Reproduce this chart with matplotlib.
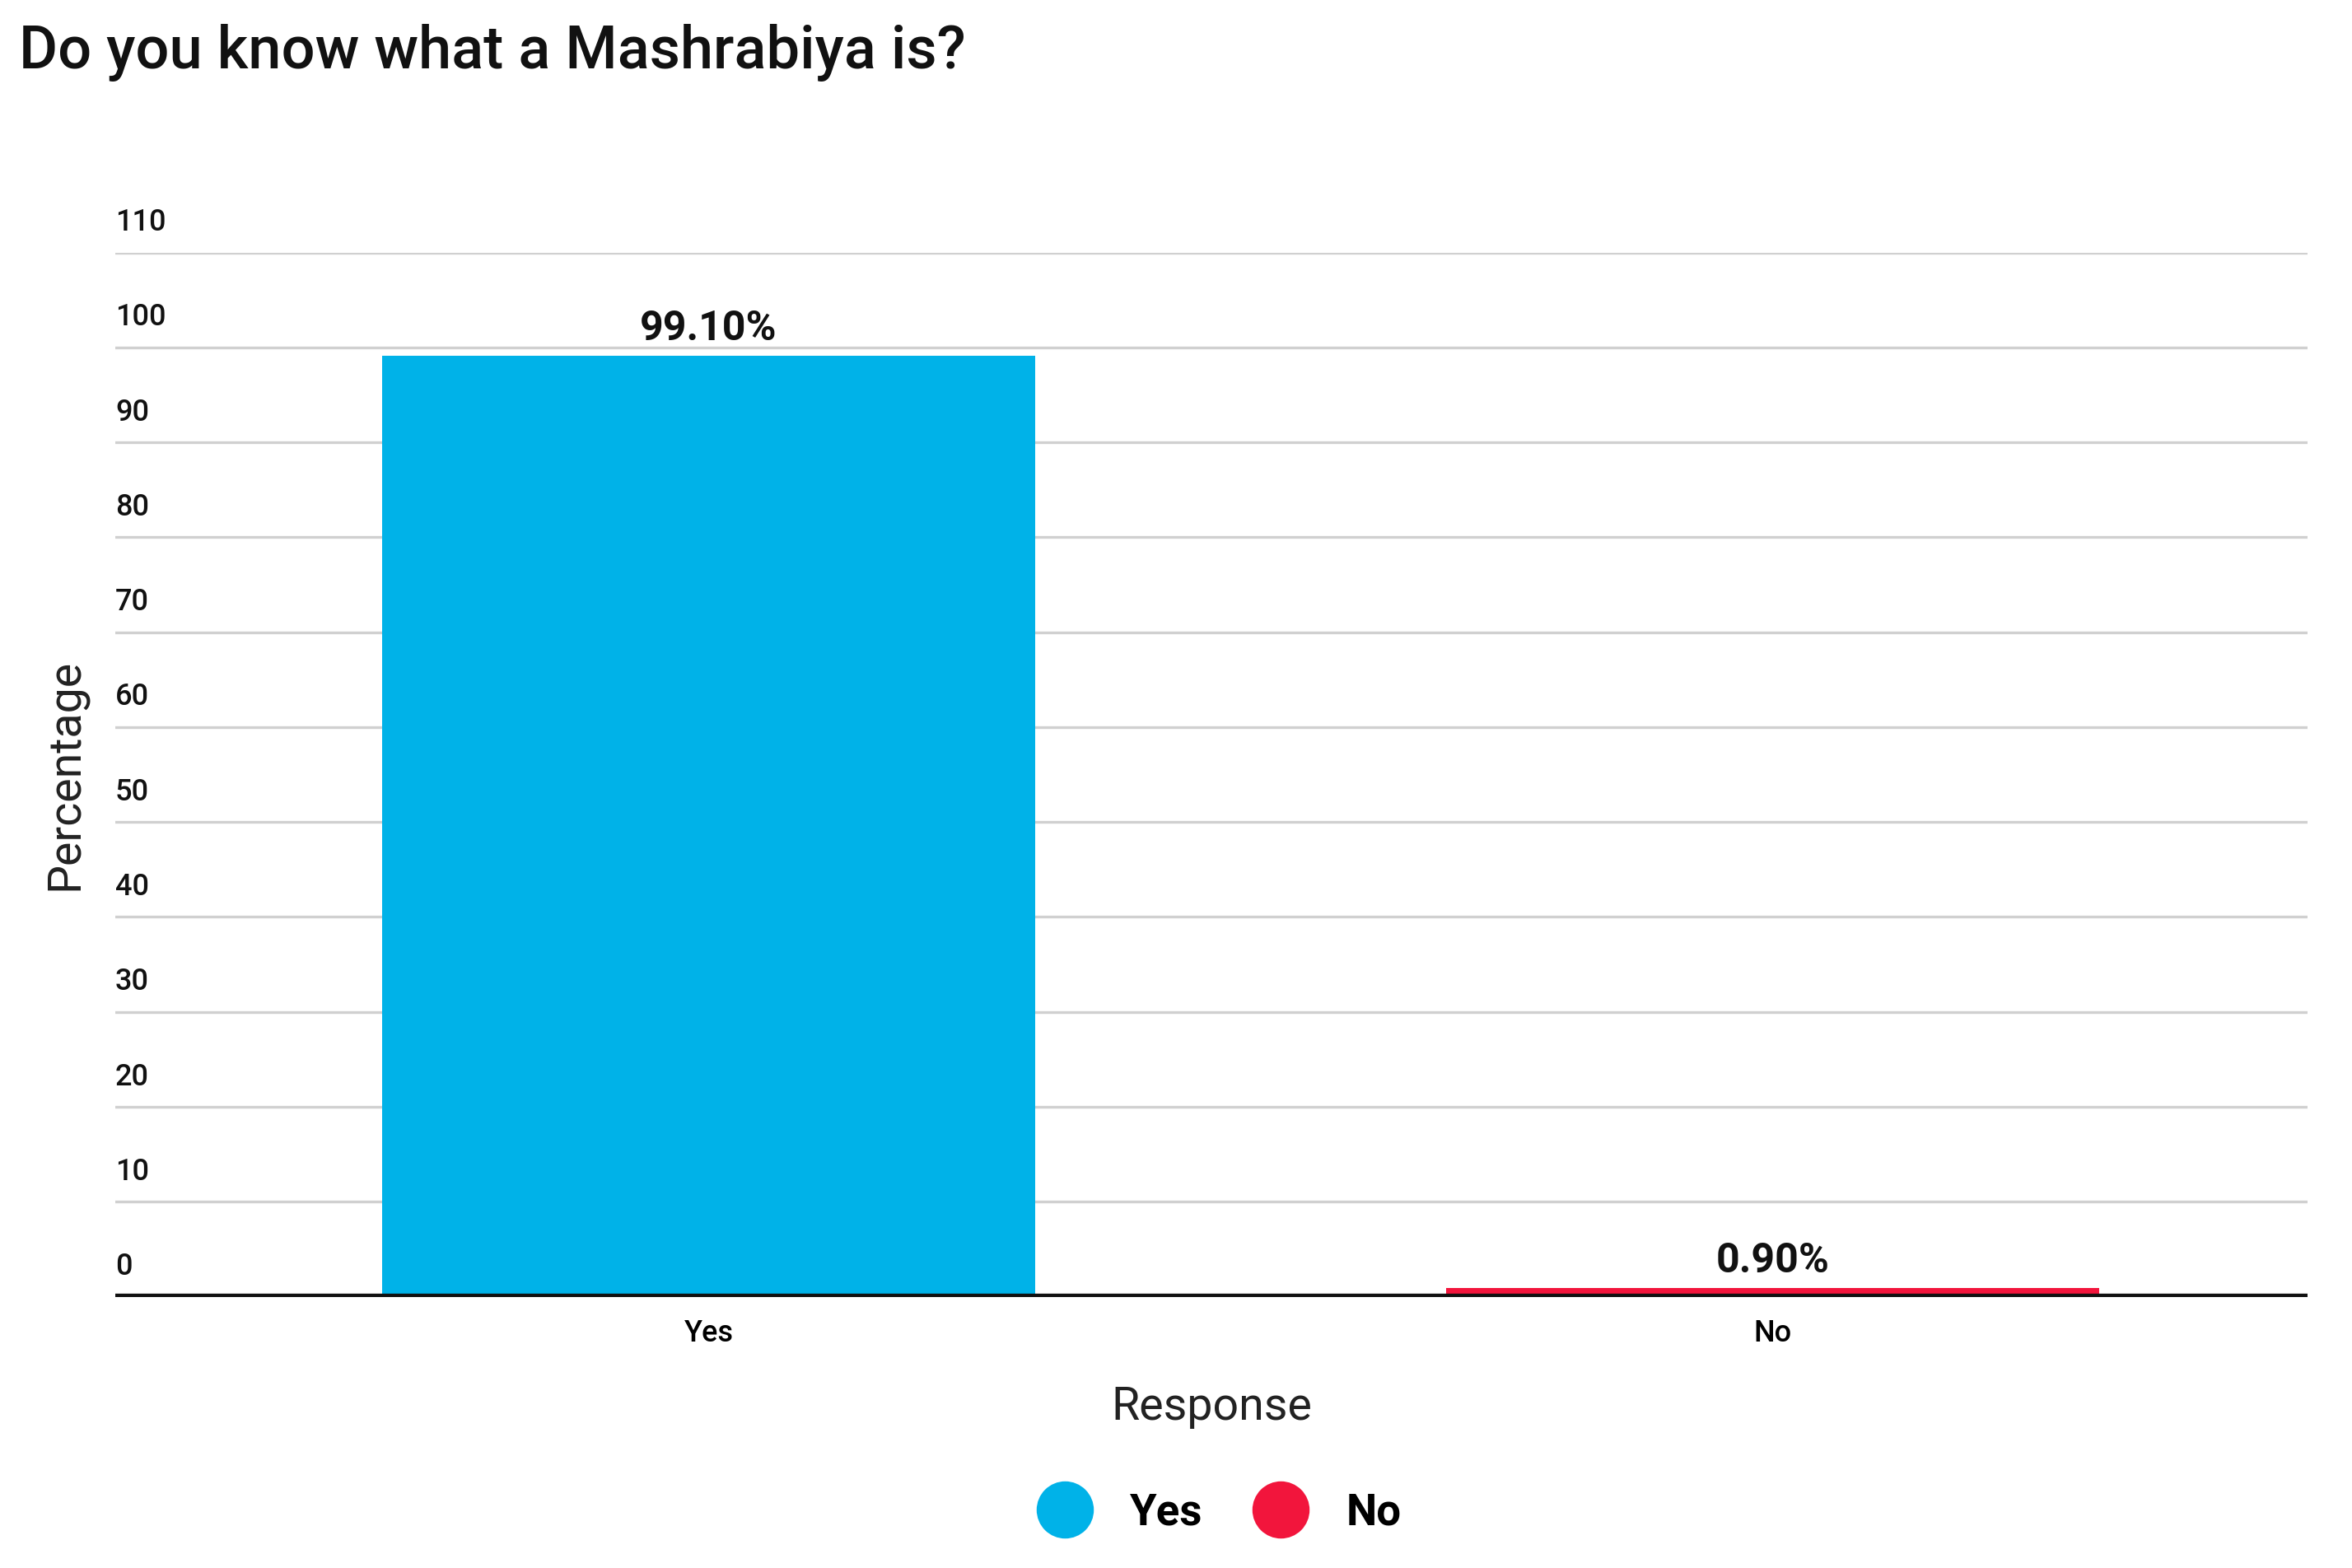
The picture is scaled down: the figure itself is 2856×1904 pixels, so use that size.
import matplotlib
matplotlib.use("Agg")
import matplotlib.pyplot as plt
from matplotlib.lines import Line2D

categories = ["Yes", "No"]
values = [99.10, 0.90]
labels = ["99.10%", "0.90%"]
colors = ["#00B2E8", "#F2153C"]
yticks = [0, 10, 20, 30, 40, 50, 60, 70, 80, 90, 100, 110]

plt.rcParams['font.family'] = ['Roboto', 'DejaVu Sans']
fig = plt.figure(figsize=(14.28, 9.52), dpi=200)
ax = fig.add_axes([0.049, 0.173, 0.932, 0.666])
x = list(range(len(categories)))
ax.bar(x, values, width=0.614, color=colors, zorder=3)
for xi, v, l in zip(x, values, labels):
    ax.text(xi, v + 0.8, l, ha='center', va='bottom', fontsize=18, fontweight='bold', color='#111111')
ax.set_xlim(-0.558, 1.503)
ax.set_ylim(0, 110)
ax.set_yticks(yticks)
ax.set_yticklabels([])
for t in yticks:
    ax.axhline(t, color='#d0d0d0', lw=1.2, zorder=1)
    ax.text(-0.558, t + 1.6, str(t), ha='left', va='bottom', fontsize=13, fontweight='medium', color='#111111')
ax.axhline(0, color='#111111', lw=3, zorder=4)
ax.tick_params(axis='y', length=0)
ax.tick_params(axis='x', length=0, labelsize=13, pad=10)
ax.set_xticks(x)
ax.set_xticklabels(categories, fontweight='medium')
for s in ax.spines.values():
    s.set_visible(False)
ax.set_xlabel("Response", fontsize=20, labelpad=16, color='#222222')
ax.set_ylabel("Percentage", fontsize=20, color='#222222')
ax.yaxis.set_label_coords(-0.013, 0.5)
fig.text(0.008, 0.985, "Do you know what a Mashrabiya is?", fontsize=26, fontweight='medium',
         va='top', ha='left', color='#111111')
handles = [Line2D([], [], marker='o', ls='', markersize=24, color=c) for c in colors]
leg = fig.legend(handles, categories, loc='center', bbox_to_anchor=(0.515, 0.035), ncol=2, frameon=False,
                 prop={'size': 19, 'weight': 'bold'}, handletextpad=0.5, columnspacing=0.8)
fig.savefig("out.png", dpi=200)
